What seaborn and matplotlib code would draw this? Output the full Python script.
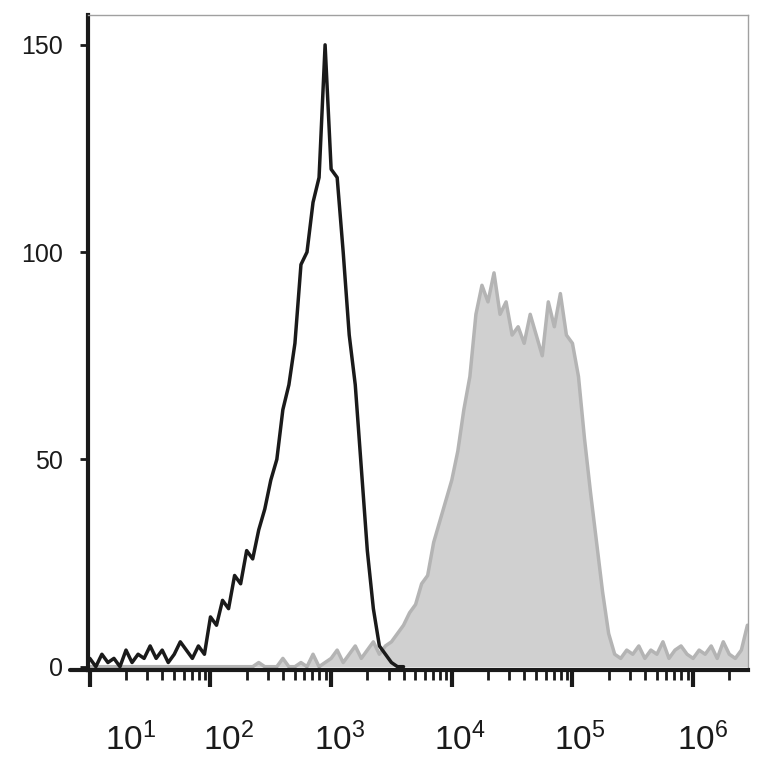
import numpy as np
import matplotlib
matplotlib.use("Agg")
import matplotlib.pyplot as plt
import matplotlib.ticker as mticker
import seaborn as sns

# bin centres in log10 units
black_log = np.arange(1.0, 3.601, 0.05)
black_counts = [2, 0, 3, 1, 2, 0, 4, 1, 3, 2, 5, 2, 4, 1, 3, 6, 4, 2, 5, 3,
                12, 10, 16, 14, 22, 20, 28, 26, 33, 38, 45, 50, 62, 68, 78, 97,
                100, 112, 118, 150, 120, 118, 100, 80, 68, 48, 28, 14, 5, 3, 1, 0, 0]

gray_log = np.arange(1.0, 6.451, 0.05)
gray_counts = [0] * 20 + [0, 0, 0, 0, 0, 0, 0, 0, 1, 0, 0, 0, 2, 0, 0, 1, 0, 3, 0, 1,
               2, 4, 1, 3, 5, 2, 4, 6, 3, 5,
               6, 8, 10, 13, 15, 20, 22, 30, 35, 40, 45, 52, 62, 70, 85, 92, 88, 95, 85, 88,
               80, 82, 78, 85, 80, 75, 88, 82, 90, 80,
               78, 70, 55, 42, 30, 18, 8, 3, 2, 4,
               3, 5, 2, 4, 3, 6, 2, 4, 5, 3, 2, 4, 3, 5, 2, 6, 3, 2, 4, 10]

decades = [1, 2, 3, 4, 5, 6]
y_ticks = [0, 50, 100, 150]

sns.set_theme(style='white')
plt.rcParams['font.family'] = ['Liberation Sans', 'DejaVu Sans']

fig = plt.figure(figsize=(7.64, 7.8), dpi=100)
ax = fig.add_axes([88 / 764, 110 / 780, 660 / 764, 655 / 780])

gx = 10 ** gray_log
bx = 10 ** black_log
ax.fill_between(gx, gray_counts, color='#d0d0d0', lw=0)
sns.lineplot(x=gx, y=gray_counts, ax=ax, color='#b4b4b4', lw=2.5)
sns.lineplot(x=bx, y=black_counts, ax=ax, color='#1a1a1a', lw=2.5)

ax.set_xscale('log')
ax.set_xlim(10 ** 0.985, 10 ** 6.455)
ax.set_ylim(-0.8, 157.2)

ax.xaxis.set_major_locator(mticker.FixedLocator([10.0 ** d for d in decades]))
ax.xaxis.set_minor_locator(mticker.LogLocator(base=10, subs=np.arange(2, 10), numticks=20))
ax.xaxis.set_major_formatter(mticker.NullFormatter())
ax.xaxis.set_minor_formatter(mticker.NullFormatter())
ax.tick_params(axis='x', which='major', bottom=True, direction='out', length=12, width=3, color='#1a1a1a')
ax.tick_params(axis='x', which='minor', bottom=True, direction='out', length=7, width=2, color='#1a1a1a')

# decade labels sit a little right of their ticks
label_pos = [1.34, 2.15, 3.07, 4.07, 5.06, 6.08]
for d, p in zip(decades, label_pos):
    ax.text(10 ** p, -0.08, rf'$\mathregular{{10^{d}}}$', transform=ax.get_xaxis_transform(),
            ha='center', va='top', fontsize=24, color='#1a1a1a')

ax.set_yticks(y_ticks)
ax.set_yticklabels([str(v) for v in y_ticks], fontsize=18, color='#1a1a1a')
ax.tick_params(axis='y', left=True, direction='out', length=6, width=2, color='#1a1a1a', pad=12)

for s in ['left', 'bottom']:
    ax.spines[s].set_color('#1a1a1a')
    ax.spines[s].set_linewidth(3)
for s in ['top', 'right']:
    ax.spines[s].set_color('#a0a0a0')
    ax.spines[s].set_linewidth(1)
# bottom axis line runs a bit past the left spine
ax.plot([-0.027, 0], [0, 0], transform=ax.transAxes, color='#1a1a1a', lw=3, clip_on=False)

fig.savefig('out.png', dpi=100)
